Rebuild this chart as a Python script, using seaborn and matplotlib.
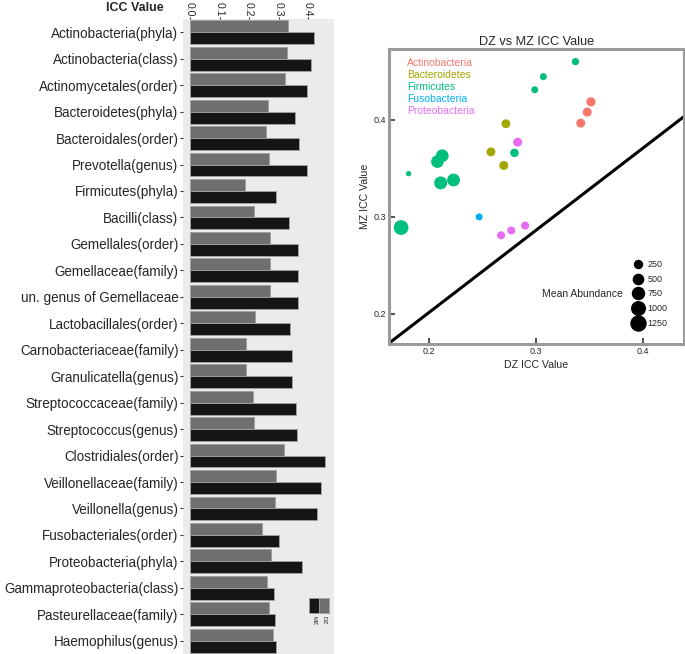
import numpy as np
import pandas as pd
import matplotlib
matplotlib.use('Agg')
import matplotlib.pyplot as plt
from matplotlib.lines import Line2D
from matplotlib.patches import Rectangle
import seaborn as sns

# taxa shown in the bar chart (top to bottom)
taxa = ['Actinobacteria(phyla)', 'Actinobacteria(class)', 'Actinomycetales(order)',
        'Bacteroidetes(phyla)', 'Bacteroidales(order)', 'Prevotella(genus)',
        'Firmicutes(phyla)', 'Bacilli(class)', 'Gemellales(order)', 'Gemellaceae(family)',
        'un. genus of Gemellaceae', 'Lactobacillales(order)', 'Carnobacteriaceae(family)',
        'Granulicatella(genus)', 'Streptococcaceae(family)', 'Streptococcus(genus)',
        'Clostridiales(order)', 'Veillonellaceae(family)', 'Veillonella(genus)',
        'Fusobacteriales(order)', 'Proteobacteria(phyla)', 'Gammaproteobacteria(class)',
        'Pasteurellaceae(family)', 'Haemophilus(genus)']

phylum = ['Actinobacteria', 'Actinobacteria', 'Actinobacteria',
          'Bacteroidetes', 'Bacteroidetes', 'Bacteroidetes',
          'Firmicutes', 'Firmicutes', 'Firmicutes', 'Firmicutes', 'Firmicutes',
          'Firmicutes', 'Firmicutes', 'Firmicutes', 'Firmicutes', 'Firmicutes',
          'Firmicutes', 'Firmicutes', 'Firmicutes',
          'Fusobacteria',
          'Proteobacteria', 'Proteobacteria', 'Proteobacteria', 'Proteobacteria']

# bar chart values
bar_dz = [0.332, 0.328, 0.323, 0.264, 0.256, 0.267, 0.187, 0.216, 0.272, 0.272, 0.272, 0.220,
          0.190, 0.190, 0.213, 0.217, 0.319, 0.293, 0.289, 0.243, 0.274, 0.262, 0.269, 0.281]
bar_mz = [0.419, 0.410, 0.397, 0.356, 0.369, 0.397, 0.292, 0.337, 0.367, 0.366, 0.366, 0.340,
          0.346, 0.346, 0.360, 0.362, 0.459, 0.443, 0.431, 0.302, 0.379, 0.284, 0.289, 0.293]

# scatter values (as plotted in the right panel)
pt_dz = [0.3515, 0.348, 0.342, 0.270, 0.258, 0.272, 0.174, 0.211, 0.280, 0.280, 0.280, 0.223,
         0.181, 0.181, 0.208, 0.2125, 0.337, 0.307, 0.299, 0.247, 0.283, 0.2675, 0.277, 0.290]
pt_mz = [0.4185, 0.408, 0.3966, 0.353, 0.367, 0.396, 0.289, 0.335, 0.366, 0.366, 0.366, 0.338,
         0.3445, 0.3445, 0.357, 0.363, 0.460, 0.4445, 0.431, 0.300, 0.377, 0.281, 0.286, 0.291]
mean_abundance = [370, 360, 350, 350, 340, 330, 1200, 900, 240, 240, 240, 880,
                  5, 5, 850, 850, 180, 155, 150, 150, 350, 250, 250, 250]

phyla = ['Actinobacteria', 'Bacteroidetes', 'Firmicutes', 'Fusobacteria', 'Proteobacteria']
phyla_colors = ['#F8766D', '#A3A500', '#00BF7D', '#00B0F6', '#E76BF3']
size_breaks = [250, 500, 750, 1000, 1250]

# reference line drawn in the scatter panel
line_dz = [0.1627, 0.4385]
line_mz = [0.1698, 0.4034]

twin_colors = {'DZ': '#6f6f6f', 'MZ': '#151515'}

sns.set_theme(style='white')
plt.rcParams['font.family'] = ['Liberation Sans', 'DejaVu Sans']

fig = plt.figure(figsize=(6.85, 6.54), dpi=100)

# ---- bar chart ----
bdf = pd.DataFrame({
    'taxon': taxa * 2,
    'icc': bar_dz + bar_mz,
    'twin': ['DZ'] * len(taxa) + ['MZ'] * len(taxa),
})
ax1 = fig.add_axes([183 / 685, 0.0, 151 / 685, 1 - 19 / 654])
ax1.set_facecolor('#ebebeb')
sns.barplot(data=bdf, y='taxon', x='icc', hue='twin', order=taxa, hue_order=['DZ', 'MZ'],
            palette=twin_colors, saturation=1, width=0.9, errorbar=None,
            edgecolor='#a0a0a0', linewidth=0.7, legend=False, orient='h', ax=ax1)
ax1.set_xlim(-0.024, 0.488)
ax1.set_xticks([0.0, 0.1, 0.2, 0.3, 0.4])
ax1.set_xticklabels(['0.0', '0.1', '0.2', '0.3', '0.4'])
ax1.set_xlabel('')
ax1.set_ylabel('')
ax1.xaxis.tick_top()
ax1.tick_params(axis='x', top=True, bottom=False, labeltop=True, labelbottom=False,
                labelrotation=-90, length=1.5, width=0.8, pad=0.5, labelsize=7.6,
                color='#333333')
ax1.tick_params(axis='y', left=True, length=2, width=0.8, pad=1.2, labelsize=9.75,
                color='#333333')
for s in ax1.spines.values():
    s.set_visible(False)

fig.text(135 / 685, 1 - 8 / 654, 'ICC Value', ha='center', va='center',
         fontsize=9, fontweight='bold')

# little rotated legend at bottom right of the bar panel
for i, tw in enumerate(['MZ', 'DZ']):
    x0 = 0.834 + i * 0.066
    ax1.add_patch(Rectangle((x0, 0.0646), 0.066, 0.0236, transform=ax1.transAxes,
                            facecolor=twin_colors[tw], edgecolor='#a0a0a0', lw=0.5,
                            clip_on=False))
    ax1.text(x0 + 0.033, 0.060, tw, transform=ax1.transAxes, rotation=-90,
             ha='center', va='top', fontsize=4.5)

# ---- scatter ----
sdf = pd.DataFrame({'dz': pt_dz, 'mz': pt_mz, 'phylum': phylum, 'abundance': mean_abundance})
ax2 = fig.add_axes([389 / 685, 1 - 344 / 654, 295 / 685, 295 / 654])
s_min, s_max = 12.4, 116.6
sns.scatterplot(data=sdf, x='dz', y='mz', hue='phylum', hue_order=phyla,
                palette=dict(zip(phyla, phyla_colors)), size='abundance',
                sizes=(s_min, s_max), size_norm=(0, 1250), linewidth=0,
                legend=False, ax=ax2, zorder=3)
ax2.plot(line_dz, line_mz, color='black', lw=2.2, zorder=2)
ax2.set_xlim(0.1627, 0.4385)
ax2.set_ylim(0.169, 0.473)
ax2.set_xticks([0.2, 0.3, 0.4])
ax2.set_yticks([0.2, 0.3, 0.4])
ax2.tick_params(direction='in', length=4.5, width=1.2, color='#333333', labelsize=6.5,
                pad=2, left=True, bottom=True)
for s in ax2.spines.values():
    s.set_color('#9b9b9b')
    s.set_linewidth(2.2)
ax2.set_title('DZ vs MZ ICC Value', fontsize=9.2, pad=3)
ax2.set_xlabel('DZ ICC Value', fontsize=7.6, labelpad=3)
ax2.set_ylabel('MZ ICC Value', fontsize=7.6, labelpad=3)

# colored text legend for phyla
hue_handles = [Line2D([], [], linestyle='none') for _ in phyla]
leg1 = ax2.legend(hue_handles, phyla, loc='upper left', bbox_to_anchor=(0.061, 0.97),
                  frameon=False, handlelength=0, handletextpad=0, borderpad=0,
                  borderaxespad=0, labelspacing=0.2, fontsize=7.5, labelcolor=phyla_colors)
ax2.add_artist(leg1)

# size legend
size_handles = [Line2D([], [], linestyle='none', marker='o', color='black',
                       markersize=np.sqrt(s_min + v / 1250 * (s_max - s_min)))
                for v in size_breaks]
ax2.legend(size_handles, [str(v) for v in size_breaks], loc='center left',
           bbox_to_anchor=(0.821, 0.1695), frameon=False, handlelength=1.5,
           handletextpad=0.3, borderpad=0, borderaxespad=0, labelspacing=0.62,
           fontsize=6.5)
ax2.text(0.793, 0.1695, 'Mean Abundance', transform=ax2.transAxes, ha='right',
         va='center', fontsize=7.5)

fig.savefig('out.png', dpi=100)
